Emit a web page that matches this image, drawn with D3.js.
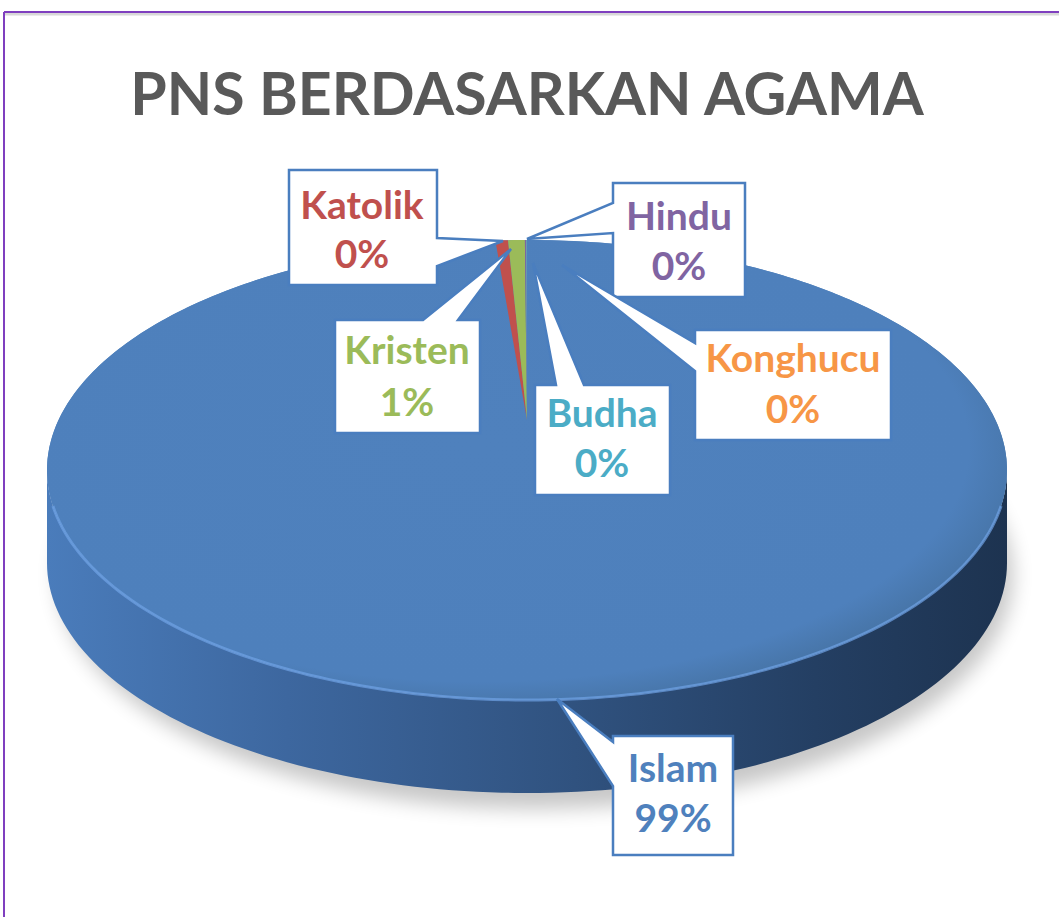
<!DOCTYPE html>
<html><head><meta charset="utf-8">
<script src="https://cdn.jsdelivr.net/npm/d3@7"></script>
<style>html,body{margin:0;padding:0;background:#fff;}svg{display:block;}</style>
</head><body>
<svg id="chart" width="1059" height="917"></svg>
<script>
const titleText = "PNS BERDASARKAN AGAMA";
const categories = ["Islam", "Katolik", "Kristen", "Hindu", "Budha", "Konghucu"];
const values = [98.95, 0.42, 0.56, 0.04, 0.025, 0.005];
const colors = ["#4F81BD", "#C0504D", "#9BBB59", "#8064A2", "#4BACC6", "#F79646"];

// label layout (positions only)
const labelLayout = {
  Katolik:  {box:[289,170,148,115], side:"right", att:[238,266], tip:[503,241], cx:362, b1:219, b2:268},
  Hindu:    {box:[613,183,132,114], side:"left",  att:[203,233], tip:[527,239], cx:679, b1:230, b2:280},
  Kristen:  {box:[335,320,145,113], side:"top",   att:[423,458], tip:[511,249], cx:407, b1:364, b2:416},
  Budha:    {box:[535,385,135,110], side:"top",   att:[556,584], tip:[533,263], cx:602, b1:427, b2:477},
  Konghucu: {box:[695,330,196,110], side:"left",  att:[343,371], tip:[562,265], cx:793, b1:372, b2:423},
  Islam:    {box:[613,736,120,119], side:"left",  att:[742,786], tip:[557,699], cx:673, b1:782, b2:832}
};

const svg = d3.select("#chart");
const W = 1059, H = 917;
const defs = svg.append("defs");

// frame
svg.append("line").attr("x1",4).attr("y1",14).attr("x2",W).attr("y2",14).attr("stroke","#d8d8d8").attr("stroke-width",3);
svg.append("line").attr("x1",4).attr("y1",12).attr("x2",W).attr("y2",12).attr("stroke","#7f3fbf").attr("stroke-width",2);
svg.append("line").attr("x1",4).attr("y1",12).attr("x2",4).attr("y2",H).attr("stroke","#7f3fbf").attr("stroke-width",2);

// title
svg.append("text").attr("x",527).attr("y",115).attr("text-anchor","middle")
  .attr("font-family","Lato").attr("font-weight","bold").attr("font-size",59)
  .attr("fill","#595959").text(titleText);

// pie geometry
const cx = 527, cy = 470, rx = 480, ry = 230, depth = 93, apexY = 420;
const proj = (a) => [cx + rx*Math.sin(a), cy - ry*Math.cos(a)];

// shadow filter
const blur = defs.append("filter").attr("id","shadow").attr("x","-20%").attr("y","-20%").attr("width","140%").attr("height","160%");
blur.append("feGaussianBlur").attr("stdDeviation",10);

const sideGrad = defs.append("linearGradient").attr("id","sideGrad").attr("x1","0").attr("x2","1").attr("y1","0").attr("y2","0");
sideGrad.append("stop").attr("offset","0%").attr("stop-color","#4a7cbb");
sideGrad.append("stop").attr("offset","25%").attr("stop-color","#3d679f");
sideGrad.append("stop").attr("offset","55%").attr("stop-color","#30527f");
sideGrad.append("stop").attr("offset","80%").attr("stop-color","#243f63");
sideGrad.append("stop").attr("offset","100%").attr("stop-color","#1d3350");

const topGrad = defs.append("radialGradient").attr("id","topGrad").attr("cx","0.45").attr("cy","0.45").attr("r","0.6");
topGrad.append("stop").attr("offset","0%").attr("stop-color","#4f81bd");
topGrad.append("stop").attr("offset","85%").attr("stop-color","#4e80bc");
topGrad.append("stop").attr("offset","100%").attr("stop-color","#44709f");

// shadow below
svg.append("ellipse").attr("cx",cx+8).attr("cy",cy+depth+12).attr("rx",rx-2).attr("ry",ry+4)
  .attr("fill","#000").attr("opacity",0.22).attr("filter","url(#shadow)");

// side
function sidePath() {
  const pts = [];
  const n = 120;
  for (let i=0;i<=n;i++){ const a = Math.PI/2 + Math.PI*i/n; pts.push(proj(a)); }
  const back = pts.slice().reverse().map(p=>[p[0], p[1]+depth]);
  return d3.line()(pts.concat(back)) + "Z";
}
svg.append("path").attr("d",sidePath()).attr("fill","url(#sideGrad)");

// top slices
const pie = d3.pie().sort(null).value(d=>d.v).startAngle(0).endAngle(2*Math.PI);
const data = categories.map((c,i)=>({c, v:values[i], col:colors[i]}));
const arcs = pie(data);
function slicePath(d) {
  const n = Math.max(2, Math.ceil((d.endAngle-d.startAngle)*80));
  const pts = [[cx, apexY]];
  for (let i=0;i<=n;i++){ pts.push(proj(d.startAngle + (d.endAngle-d.startAngle)*i/n)); }
  return d3.line()(pts) + "Z";
}
svg.append("ellipse").attr("cx",cx).attr("cy",cy).attr("rx",rx).attr("ry",ry).attr("fill","url(#topGrad)");
svg.selectAll("path.slice").data(arcs).join("path").attr("class","slice")
  .attr("d",slicePath)
  .attr("fill",(d,i)=> i===0 ? "url(#topGrad)" : d.data.col);

// rim highlight on front edge
(function(){
  const pts=[]; const n=120;
  for (let i=0;i<=n;i++){ const a = Math.PI*0.55 + Math.PI*0.9*i/n; pts.push(proj(a)); }
  svg.append("path").attr("d",d3.line()(pts)).attr("fill","none").attr("stroke","#6fa3e6").attr("stroke-width",3).attr("opacity",0.7);
})();

// callouts
function calloutPath(L) {
  const [x,y,w,h] = L.box; const [a1,a2] = L.att; const [tx,ty] = L.tip;
  const p = [];
  p.push([x,y]);
  if (L.side==="top") { p.push([a1,y],[tx,ty],[a2,y]); }
  p.push([x+w,y]);
  if (L.side==="right") { p.push([x+w,a1],[tx,ty],[x+w,a2]); }
  p.push([x+w,y+h]);
  p.push([x,y+h]);
  if (L.side==="left") { p.push([x,a2],[tx,ty],[x,a1]); }
  return d3.line()(p) + "Z";
}
const fmt = v => Math.round(v) + "%";
const total = d3.sum(values);
const labels = svg.selectAll("g.lbl").data(arcs).join("g").attr("class","lbl");
labels.append("path").attr("d",d=>calloutPath(labelLayout[d.data.c]))
  .attr("fill","#fff").attr("stroke","#4a7ebf").attr("stroke-width",2.5).attr("stroke-linejoin","miter");
labels.append("text").attr("x",d=>labelLayout[d.data.c].cx).attr("y",d=>labelLayout[d.data.c].b1)
  .attr("text-anchor","middle").attr("font-family","Lato").attr("font-weight","bold").attr("font-size",39)
  .attr("fill",d=>d.data.col).text(d=>d.data.c);
labels.append("text").attr("x",d=>labelLayout[d.data.c].cx).attr("y",d=>labelLayout[d.data.c].b2)
  .attr("text-anchor","middle").attr("font-family","Lato").attr("font-weight","bold").attr("font-size",39)
  .attr("fill",d=>d.data.col).text(d=>fmt(d.data.v/total*100));
</script>
</body></html>
